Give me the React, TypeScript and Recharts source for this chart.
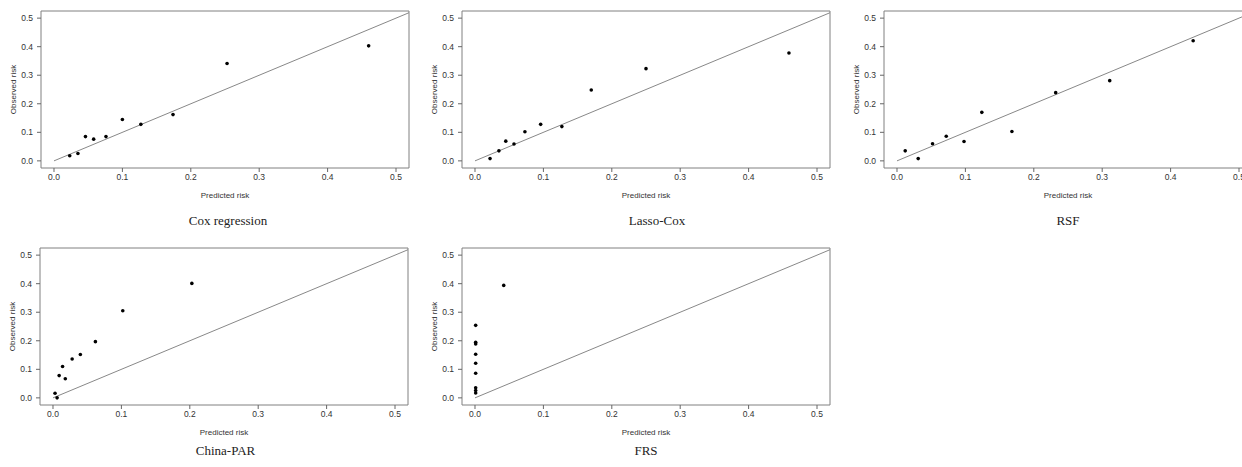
import { ReferenceArea, ReferenceLine, Scatter, ScatterChart, XAxis, YAxis } from "recharts";

const riskTicks = [0, 0.1, 0.2, 0.3, 0.4, 0.5];

const coxPredicted = [0.023, 0.035, 0.046, 0.058, 0.076, 0.1, 0.127, 0.174, 0.253, 0.46];
const coxObserved = [0.018, 0.026, 0.085, 0.076, 0.085, 0.145, 0.128, 0.162, 0.341, 0.403];

const lassoPredicted = [0.022, 0.035, 0.045, 0.057, 0.073, 0.096, 0.127, 0.17, 0.25, 0.459];
const lassoObserved = [0.008, 0.035, 0.069, 0.059, 0.102, 0.128, 0.12, 0.248, 0.323, 0.378];

const rsfPredicted = [0.012, 0.031, 0.052, 0.072, 0.098, 0.124, 0.168, 0.232, 0.311, 0.433];
const rsfObserved = [0.035, 0.008, 0.06, 0.086, 0.068, 0.17, 0.103, 0.239, 0.281, 0.421];

const parPredicted = [0.003, 0.006, 0.009, 0.014, 0.018, 0.028, 0.04, 0.062, 0.102, 0.203];
const parObserved = [0.016, 0.0, 0.078, 0.11, 0.067, 0.136, 0.152, 0.197, 0.305, 0.401];

const frsPredicted = [0.001, 0.001, 0.001, 0.001, 0.001, 0.001, 0.001, 0.001, 0.001, 0.042];
const frsObserved = [0.017, 0.026, 0.035, 0.086, 0.121, 0.153, 0.189, 0.195, 0.254, 0.394];

const X_DOMAIN: [number, number] = [-0.019, 0.519];
const Y_DOMAIN: [number, number] = [-0.025, 0.525];

const BOX_W = 368;
const BOX_H = 157;
const Y_AXIS_W = 55;
const X_AXIS_H = 54;
const PAD = 5;

const axisFont = { fontFamily: "Liberation Sans, Arial, sans-serif", fontSize: 8.5, fill: "#333" };

type PanelProps = {
  predicted: number[];
  observed: number[];
  boxLeft: number;
  boxTop: number;
};

function Dot(props: any) {
  return <circle cx={props.cx} cy={props.cy} r={1.8} fill="#000" />;
}

function CalibrationPanel({ predicted, observed, boxLeft, boxTop }: PanelProps) {
  const data = predicted.map((x, i) => ({ x, y: observed[i] }));
  return (
    <div style={{ position: "absolute", left: boxLeft - Y_AXIS_W, top: boxTop - PAD }}>
      <ScatterChart
        width={Y_AXIS_W + BOX_W + PAD}
        height={PAD + BOX_H + X_AXIS_H}
        margin={{ top: PAD, right: PAD, bottom: 0, left: 0 }}
      >
        <XAxis
          type="number"
          dataKey="x"
          domain={X_DOMAIN}
          ticks={riskTicks}
          allowDataOverflow
          height={X_AXIS_H}
          axisLine={false}
          tickLine={{ stroke: "#666" }}
          tickSize={4}
          tickMargin={2}
          tick={axisFont}
          tickFormatter={(v) => v.toFixed(1)}
          label={{ value: "Predicted risk", position: "center", style: { ...axisFont, fontSize: 8 } }}
        />
        <YAxis
          type="number"
          dataKey="y"
          domain={Y_DOMAIN}
          ticks={riskTicks}
          allowDataOverflow
          width={Y_AXIS_W}
          axisLine={false}
          tickLine={{ stroke: "#666" }}
          tickSize={4}
          tickMargin={4}
          tick={axisFont}
          tickFormatter={(v) => v.toFixed(1)}
          label={{ value: "Observed risk", angle: -90, position: "center", style: { ...axisFont, fontSize: 8 } }}
        />
        <ReferenceArea
          x1={X_DOMAIN[0]}
          x2={X_DOMAIN[1]}
          y1={Y_DOMAIN[0]}
          y2={Y_DOMAIN[1]}
          fill="none"
          fillOpacity={0}
          stroke="#808080"
          strokeWidth={1}
        />
        <ReferenceLine
          segment={[
            { x: 0, y: 0 },
            { x: 0.519, y: 0.519 },
          ]}
          stroke="#888"
          strokeWidth={1}
        />
        <Scatter data={data} shape={Dot} isAnimationActive={false} />
      </ScatterChart>
    </div>
  );
}

function Title({ text, x, y }: { text: string; x: number; y: number }) {
  return (
    <div
      style={{
        position: "absolute",
        left: x,
        top: y,
        transform: "translate(-50%, -50%)",
        whiteSpace: "nowrap",
        fontFamily: "Liberation Serif, Times New Roman, serif",
        fontSize: 13,
        color: "#222",
      }}
    >
      {text}
    </div>
  );
}

export default function App() {
  return (
    <div
      style={{
        position: "absolute",
        left: 0,
        top: 0,
        width: 1242,
        height: 467,
        overflow: "hidden",
        background: "#fff",
      }}
    >
      <CalibrationPanel predicted={coxPredicted} observed={coxObserved} boxLeft={40.7} boxTop={11} />
      <CalibrationPanel predicted={lassoPredicted} observed={lassoObserved} boxLeft={462.3} boxTop={11} />
      <CalibrationPanel predicted={rsfPredicted} observed={rsfObserved} boxLeft={883.7} boxTop={11} />
      <CalibrationPanel predicted={parPredicted} observed={parObserved} boxLeft={40.3} boxTop={248} />
      <CalibrationPanel predicted={frsPredicted} observed={frsObserved} boxLeft={462} boxTop={248} />

      <Title text="Cox regression" x={228} y={221} />
      <Title text="Lasso-Cox" x={657} y={221} />
      <Title text="RSF" x={1068} y={221} />
      <Title text="China-PAR" x={225.5} y={451} />
      <Title text="FRS" x={646} y={451} />
    </div>
  );
}
